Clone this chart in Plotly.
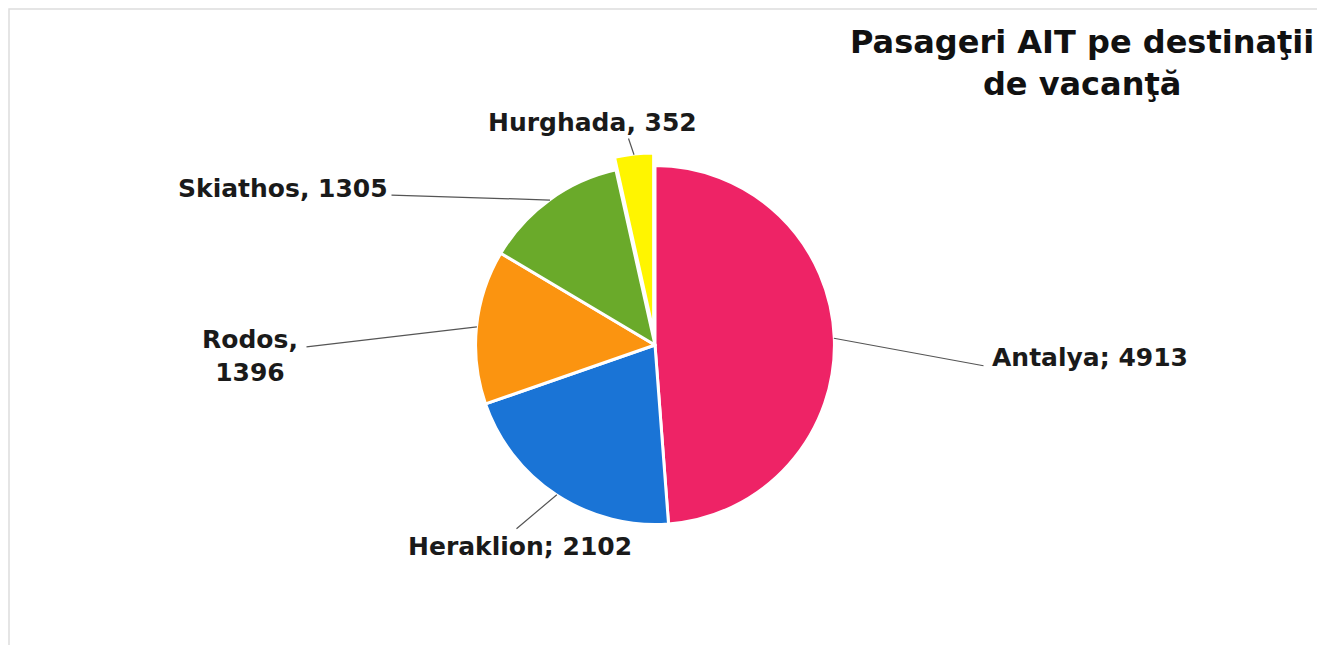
import math
import plotly.graph_objects as go

destinations = ["Antalya", "Heraklion", "Rodos", "Skiathos", "Hurghada"]
passengers = [4913, 2102, 1396, 1305, 352]
label_texts = ["Antalya; 4913", "Heraklion; 2102", "Rodos,<br>1396", "Skiathos, 1305", "Hurghada, 352"]
colors = ["#EE2366", "#1A74D6", "#FB9410", "#6AAA2A", "#FFF500"]
pulls = [0, 0, 0, 0, 0.07]

W, H = 1325, 645
OFF = 8  # page body offset in the screenshot
cx, cy, R = 655, 345, 178  # pie centre / radius in screen pixels

# label text centres and leader-line ends (screen pixels)
label_pos = [(1090, 357), (520, 546), (250, 356), (283, 188), (592, 123)]
line_end = [(985, 366), (515, 530), (305, 347), (390, 195), (628, 137)]


def px(x):
    return (x - OFF) / W


def py(y):
    return 1 - (y - OFF) / H


fig = go.Figure()
fig.add_trace(go.Pie(
    labels=destinations, values=passengers, sort=False, direction="clockwise",
    rotation=0, marker=dict(colors=colors, line=dict(color="white", width=3)),
    pull=pulls, textinfo="none", hoverinfo="label+value", showlegend=False,
    domain=dict(x=[px(cx - R - 20), px(cx + R + 20)],
                y=[py(cy + R + 14), py(cy - R - 14)]),
))

total = sum(passengers)
cum = 0
for i, v in enumerate(passengers):
    mid = (cum + v / 2) / total * 2 * math.pi
    cum += v
    r = R * (1 + pulls[i]) + 1
    tx = cx + r * math.sin(mid)
    ty = cy - r * math.cos(mid)
    ex, ey = line_end[i]
    # leader line
    fig.add_annotation(
        x=px(tx), y=py(ty), xref="paper", yref="paper",
        ax=ex - tx, ay=ey - ty, axref="pixel", ayref="pixel",
        text="", showarrow=True, arrowhead=0, arrowwidth=1.2,
        arrowcolor="#555555",
    )
    lx, ly = label_pos[i]
    fig.add_annotation(
        x=px(lx), y=py(ly), xref="paper", yref="paper", showarrow=False,
        text="<b>%s</b>" % label_texts[i],
        font=dict(family="DejaVu Sans", size=25, color="#1a1a1a"),
        align="center", xanchor="center", yanchor="middle",
    )

fig.add_annotation(
    x=px(1082), y=py(63), xref="paper", yref="paper", showarrow=False,
    text="<b>Pasageri AIT pe destinaţii<br>de vacanţă</b>",
    font=dict(family="DejaVu Sans", size=32, color="#111111"), align="center",
    xanchor="center", yanchor="middle",
)

fig.add_shape(type="rect", xref="paper", yref="paper",
              x0=px(9), x1=px(1320), y0=-0.05, y1=py(9),
              line=dict(color="#DDDDDD", width=1.5))

fig.update_layout(width=W, height=H, margin=dict(l=0, r=0, t=0, b=0),
                  paper_bgcolor="white", plot_bgcolor="white")
fig.write_html("out.html")
